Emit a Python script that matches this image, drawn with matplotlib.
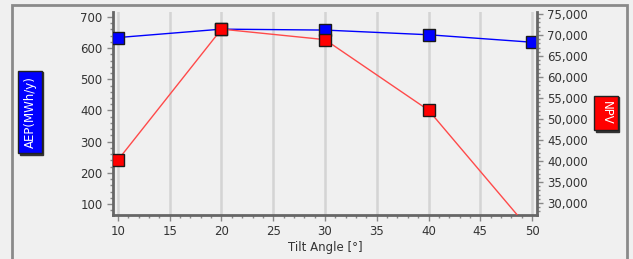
import numpy as np
import matplotlib.pyplot as plt
from matplotlib.patches import Rectangle
from matplotlib.ticker import MultipleLocator, FuncFormatter

tilt = [10, 20, 30, 40, 50]
aep = [634, 661, 658, 643, 619]
npv = [40250, 71400, 68900, 52100, 23000]

fig = plt.figure(figsize=(6.33, 2.59), dpi=100, facecolor='#f0f0f0')
fig.patches.append(Rectangle((12 / 633, -0.05), 615 / 633, 1.05 - 5 / 259,
                             transform=fig.transFigure, fill=False,
                             edgecolor='#8a8a8a', linewidth=2))

ax = fig.add_axes([113 / 633, 44 / 259, 424 / 633, 203 / 259])
ax.set_facecolor('#f0f0f0')
ax2 = ax.twinx()

ax.plot(tilt, aep, color='#0000ff', linewidth=1, marker='s', markersize=9,
        markerfacecolor='#0000ff', markeredgecolor='#1a1a1a', markeredgewidth=1, zorder=3)
ax2.plot(tilt, npv, color='#ff4a4a', linewidth=1, marker='s', markersize=9,
         markerfacecolor='#ff0000', markeredgecolor='#1a1a1a', markeredgewidth=1, zorder=3)

ax.set_xlim(9.52, 50.48)
ax.set_ylim(64.7, 716)
ax2.set_ylim(27140, 75480)

ax.xaxis.set_major_locator(MultipleLocator(5))
ax.xaxis.set_minor_locator(MultipleLocator(1))
ax.yaxis.set_minor_locator(MultipleLocator(20))
ax2.yaxis.set_minor_locator(MultipleLocator(1000))
ax2.yaxis.set_major_formatter(FuncFormatter(lambda v, p: f'{int(v):,}'))
ax.set_yticks([100, 200, 300, 400, 500, 600, 700])
ax2.set_yticks(np.arange(30000, 75001, 5000))

ax.grid(axis='x', color='#d4d4d4', linewidth=1.8)
ax.set_axisbelow(True)

for a in (ax, ax2):
    for s in a.spines.values():
        s.set_visible(False)
    a.tick_params(which='both', colors='#888888', labelcolor='#333333', labelsize=8.5)
    a.tick_params(which='major', length=4, width=1)
    a.tick_params(which='minor', length=2, width=1)

ax.spines['left'].set_visible(True)
ax.spines['bottom'].set_visible(True)
ax2.spines['right'].set_visible(True)
for s in (ax.spines['left'], ax.spines['bottom'], ax2.spines['right']):
    s.set_color('#666666')
    s.set_linewidth(2)

ax.set_xlabel('Tilt Angle [°]', fontsize=8.5, color='#333333', labelpad=2)

# shadowed label boxes
for x, y, txt, rot, col in [(30, 112, 'AEP(MWh/y)', 90, '#0000ff'),
                            (606, 113, 'NPV', 270, '#ff0000')]:
    fig.text(x / 633 + 1.5 / 633, 1 - y / 259 - 1.5 / 259, txt, rotation=rot,
             ha='center', va='center', color='#333333', fontsize=8.5,
             bbox=dict(boxstyle='square,pad=0.45', facecolor='#333333',
                       edgecolor='#333333', linewidth=1))
    fig.text(x / 633, 1 - y / 259, txt, rotation=rot, ha='center', va='center',
             color='white', fontsize=8.5,
             bbox=dict(boxstyle='square,pad=0.45', facecolor=col,
                       edgecolor='#222222', linewidth=1))

fig.savefig('out.png', dpi=100, facecolor=fig.get_facecolor())
